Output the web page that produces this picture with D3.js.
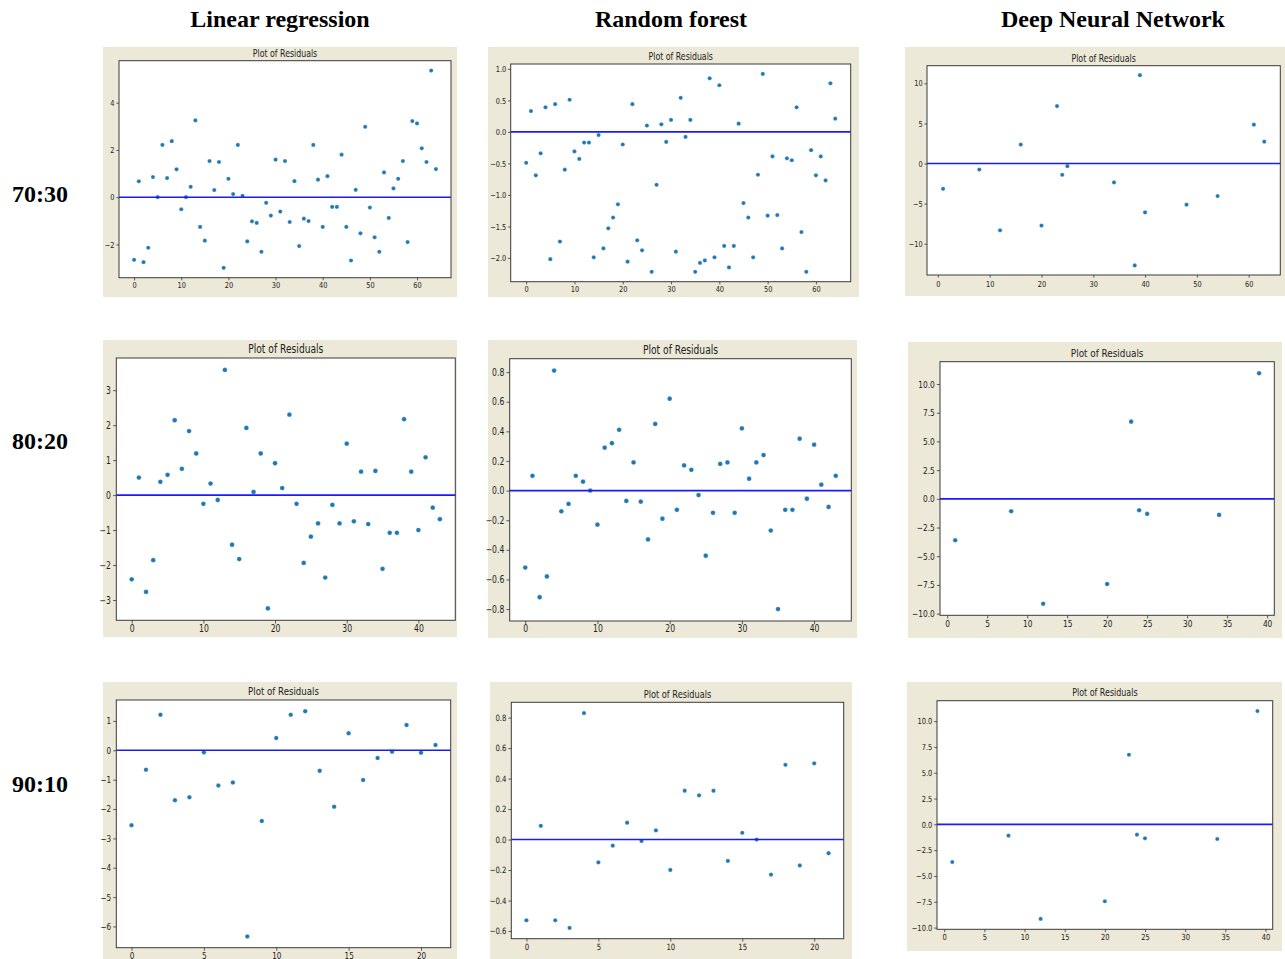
<!DOCTYPE html>
<html>
<head>
<meta charset="utf-8">
<script src="https://cdn.jsdelivr.net/npm/d3@7"></script>
<style>
  html, body { margin: 0; padding: 0; background: #ffffff; }
  svg { display: block; }
</style>
</head>
<body>
<svg id="chart" width="1285" height="959"></svg>
<script>
// ---------------- DATA ----------------
const columnTitles = ["Linear regression", "Random forest", "Deep Neural Network"];
const rowTitles = ["70:30", "80:20", "90:10"];
const panelTitle = "Plot of Residuals";

// Residuals indexed 0..n-1
const lr7030 = [-2.65, 0.67, -2.75, -2.14, 0.85, 0.00, 2.21, 0.81, 2.37, 1.18,
  -0.51, 0.00, 0.44, 3.25, -1.26, -1.84, 1.53, 0.30, 1.49, -2.99,
  0.78, 0.13, 2.21, 0.06, -1.87, -1.02, -1.09, -2.31, -0.24, -0.78,
  1.59, -0.61, 1.53, -1.05, 0.68, -2.07, -0.91, -1.01, 2.21, 0.74,
  -1.26, 0.89, -0.41, -0.41, 1.80, -1.26, -2.68, 0.31, -1.53, 2.98,
  -0.44, -1.70, -2.31, 1.05, -0.88, 0.37, 0.78, 1.53, -1.90, 3.22,
  3.12, 2.07, 1.49, 5.36, 1.19];
const rf7030 = [-0.49, 0.33, -0.69, -0.34, 0.39, -2.02, 0.44, -1.74, -0.60, 0.51,
  -0.31, -0.43, -0.17, -0.17, -1.99, -0.05, -1.85, -1.53, -1.36, -1.15,
  -0.20, -2.06, 0.44, -1.72, -1.88, 0.10, -2.22, -0.84, 0.12, -0.16,
  0.19, -1.90, 0.54, -0.08, 0.19, -2.22, -2.08, -2.04, 0.85, -1.99,
  0.74, -1.81, -2.15, -1.81, 0.13, -1.13, -1.36, -1.99, -0.68, 0.92,
  -1.33, -0.39, -1.32, -1.85, -0.42, -0.45, 0.39, -1.59, -2.22, -0.29,
  -0.69, -0.39, -0.77, 0.77, 0.21];
const dnn7030X = [1, 8, 12, 16, 20, 23, 24, 25, 34, 38, 39, 40, 48, 54, 61, 63];
const dnn7030Y = [-3.15, -0.75, -8.32, 2.36, -7.74, 7.16, -1.41, -0.33, -2.36, -12.71, 11.01, -6.09, -5.13, -4.06, 4.84, 2.73];

const lr8020 = [-2.41, 0.50, -2.77, -1.86, 0.38, 0.58, 2.14, 0.75, 1.83, 1.19,
  -0.25, 0.33, -0.14, 3.58, -1.42, -1.83, 1.92, 0.09, 1.19, -3.24,
  0.91, 0.20, 2.30, -0.25, -1.94, -1.19, -0.81, -2.36, -0.28, -0.81,
  1.47, -0.75, 0.67, -0.83, 0.69, -2.11, -1.08, -1.08, 2.17, 0.67,
  -1.00, 1.08, -0.36, -0.69];
const rf8020 = [-0.52, 0.10, -0.72, -0.58, 0.81, -0.14, -0.09, 0.10, 0.06, 0.00,
  -0.23, 0.29, 0.32, 0.41, -0.07, 0.19, -0.075, -0.33, 0.45, -0.19,
  0.62, -0.13, 0.17, 0.14, -0.03, -0.44, -0.15, 0.18, 0.19, -0.15,
  0.42, 0.08, 0.19, 0.24, -0.27, -0.80, -0.13, -0.13, 0.35, -0.055,
  0.31, 0.04, -0.11, 0.10];
const dnn8020X = [1, 8, 12, 20, 23, 24, 25, 34, 39];
const dnn8020Y = [-3.61, -1.08, -9.14, -7.42, 6.72, -0.99, -1.31, -1.40, 10.94];

const lr9010 = [-2.55, -0.66, 1.21, -1.70, -1.60, -0.07, -1.20, -1.10, -6.34, -2.41,
  0.42, 1.21, 1.33, -0.70, -1.92, 0.58, -1.01, -0.26, -0.05, 0.86,
  -0.08, 0.18];
const rf9010 = [-0.53, 0.09, -0.53, -0.58, 0.83, -0.15, -0.04, 0.11, -0.01, 0.06,
  -0.20, 0.32, 0.29, 0.32, -0.14, 0.044, 0.00, -0.23, 0.49, -0.17,
  0.50, -0.09];
const dnn9010X = [1, 8, 12, 20, 23, 24, 25, 34, 39];
const dnn9010Y = [-3.65, -1.10, -9.16, -7.45, 6.74, -1.00, -1.35, -1.42, 10.97];

// Tick values
const xTicks0to60 = [0, 10, 20, 30, 40, 50, 60];
const xTicks0to40 = [0, 10, 20, 30, 40];
const xTicks0to40by5 = [0, 5, 10, 15, 20, 25, 30, 35, 40];
const xTicks0to20by5 = [0, 5, 10, 15, 20];
const yTicksLR7030 = [-2, 0, 2, 4];
const yTicksRF7030 = [-2.0, -1.5, -1.0, -0.5, 0.0, 0.5, 1.0];
const yTicksDNN7030 = [-10, -5, 0, 5, 10];
const yTicksLR8020 = [-3, -2, -1, 0, 1, 2, 3];
const yTicksRF8020 = [-0.8, -0.6, -0.4, -0.2, 0.0, 0.2, 0.4, 0.6, 0.8];
const yTicksDNN = [-10.0, -7.5, -5.0, -2.5, 0.0, 2.5, 5.0, 7.5, 10.0];
const yTicksLR9010 = [-6, -5, -4, -3, -2, -1, 0, 1];
const yTicksRF9010 = [-0.6, -0.4, -0.2, 0.0, 0.2, 0.4, 0.6, 0.8];

// ---------------- LAYOUT ----------------
const fmtInt = d3.format("d");
const fmt1 = d3.format(".1f");
const panels = [
  {xs: d3.range(lr7030.length), ys: lr7030, xt: xTicks0to60, yt: yTicksLR7030, yf: fmtInt,
   bg: [103, 47, 457, 297], plot: [119, 451, 60.7, 277.7], xlab: 4.5},
  {xs: d3.range(rf7030.length), ys: rf7030, xt: xTicks0to60, yt: yTicksRF7030, yf: fmt1,
   bg: [488, 47, 859, 297], plot: [510.7, 850.7, 64, 281.7], xlab: 4.5},
  {xs: dnn7030X, ys: dnn7030Y, xt: xTicks0to60, yt: yTicksDNN7030, yf: fmtInt,
   bg: [905, 47, 1285, 296], plot: [927, 1280.3, 65.7, 275], xlab: 6},
  {xs: d3.range(lr8020.length), ys: lr8020, xt: xTicks0to40, yt: yTicksLR8020, yf: fmtInt,
   bg: [103, 340, 457, 637], plot: [116.3, 455.3, 358, 620.3], xlab: 5},
  {xs: d3.range(rf8020.length), ys: rf8020, xt: xTicks0to40, yt: yTicksRF8020, yf: fmt1,
   bg: [488, 340, 857, 638], plot: [509.7, 851.3, 358.7, 621], xlab: 4.5},
  {xs: dnn8020X, ys: dnn8020Y, xt: xTicks0to40by5, yt: yTicksDNN, yf: fmt1,
   bg: [908, 342, 1282, 638], plot: [940, 1274.3, 361.7, 615.3], xlab: 5},
  {xs: d3.range(lr9010.length), ys: lr9010, xt: xTicks0to20by5, yt: yTicksLR9010, yf: fmtInt,
   bg: [103, 682, 457, 959], plot: [116.3, 450.7, 700, 947.7], xlab: 5},
  {xs: d3.range(rf9010.length), ys: rf9010, xt: xTicks0to20by5, yt: yTicksRF9010, yf: fmt1,
   bg: [490, 682, 852, 959], plot: [511.3, 843.7, 702.3, 938.7], xlab: 5},
  {xs: dnn9010X, ys: dnn9010Y, xt: xTicks0to40by5, yt: yTicksDNN, yf: fmt1,
   bg: [907, 682, 1282, 951], plot: [937, 1272.7, 700.7, 929.3], xlab: 5}
];

const svg = d3.select("#chart");
const SQ = 0.8; // horizontal squish of the screenshot text

function drawPanel(p) {
  const g = svg.append("g");
  const [bx0, by0, bx1, by1] = p.bg;
  g.append("rect").attr("x", bx0).attr("y", by0)
    .attr("width", bx1 - bx0).attr("height", by1 - by0).attr("fill", "#ece9d8");
  const [L, R, T, B] = p.plot;
  const fs = (B - T) / 262;

  const xe = d3.extent(p.xs), ye = d3.extent(p.ys);
  const xm = (xe[1] - xe[0]) * 0.05, ym = (ye[1] - ye[0]) * 0.05;
  const x = d3.scaleLinear().domain([xe[0] - xm, xe[1] + xm]).range([L, R]);
  const y = d3.scaleLinear().domain([ye[0] - ym, ye[1] + ym]).range([B, T]);

  g.append("rect").attr("x", L).attr("y", T).attr("width", R - L).attr("height", B - T).attr("fill", "#ffffff");

  const pts = p.xs.map((v, i) => [v, p.ys[i]]);
  g.append("g").selectAll("circle").data(pts).join("circle")
    .attr("cx", d => x(d[0])).attr("cy", d => y(d[1]))
    .attr("r", 2.4 * Math.max(fs, 0.88))
    .attr("fill", "#1f77b4")
    .attr("stroke", "#ffffff").attr("stroke-width", 0.3);

  g.append("line").attr("x1", L).attr("x2", R).attr("y1", y(0)).attr("y2", y(0))
    .attr("stroke", "#1a1aff").attr("stroke-width", 1.6);

  const tickFont = 9.6 * Math.max(fs, 0.86);
  const ts = 3.2 * fs, pad = 2.2 * fs;
  const xa = g.append("g").attr("transform", `translate(0,${B})`)
    .call(d3.axisBottom(x).tickValues(p.xt).tickFormat(fmtInt).tickSize(ts).tickPadding(p.xlab - ts).tickSizeOuter(0));
  const ya = g.append("g").attr("transform", `translate(${L},0)`)
    .call(d3.axisLeft(y).tickValues(p.yt).tickFormat(p.yf).tickSize(ts).tickPadding(pad).tickSizeOuter(0));
  [xa, ya].forEach(a => {
    a.select(".domain").remove();
    a.selectAll("line").attr("stroke", "#333333").attr("stroke-width", 0.8);
    a.selectAll("text").attr("fill", "#222222")
      .style("font-family", "'DejaVu Sans', sans-serif").style("font-size", tickFont + "px");
  });
  xa.selectAll("text").attr("transform", `scale(${SQ},1)`).attr("x", 0);
  ya.selectAll("text").attr("x", 0).attr("transform", `translate(${-(ts + pad)},0) scale(${SQ},1)`);

  g.append("rect").attr("x", L).attr("y", T).attr("width", R - L).attr("height", B - T)
    .attr("fill", "none").attr("stroke", "#3a3a3a").attr("stroke-width", 1);

  g.append("text")
    .attr("transform", `translate(${(L + R) / 2},${T - 5 * fs}) scale(${SQ},1)`)
    .attr("text-anchor", "middle")
    .style("font-family", "'DejaVu Sans', sans-serif")
    .style("font-size", (11.4 * Math.max(fs, 0.86)) + "px")
    .attr("fill", "#222222")
    .text(panelTitle);
}

panels.forEach(drawPanel);

// Column headers and row labels
const colCenters = [280, 671, 1113];
svg.append("g").selectAll("text").data(columnTitles).join("text")
  .attr("x", (d, i) => colCenters[i]).attr("y", 27)
  .attr("text-anchor", "middle")
  .style("font-family", "'Liberation Serif', 'Times New Roman', serif")
  .style("font-weight", "bold").style("font-size", "24px")
  .attr("fill", "#000").text(d => d);

const rowBaselines = [202, 449, 792];
svg.append("g").selectAll("text").data(rowTitles).join("text")
  .attr("x", 12).attr("y", (d, i) => rowBaselines[i])
  .style("font-family", "'Liberation Serif', 'Times New Roman', serif")
  .style("font-weight", "bold").style("font-size", "24px")
  .attr("fill", "#000").text(d => d);
</script>
</body>
</html>
